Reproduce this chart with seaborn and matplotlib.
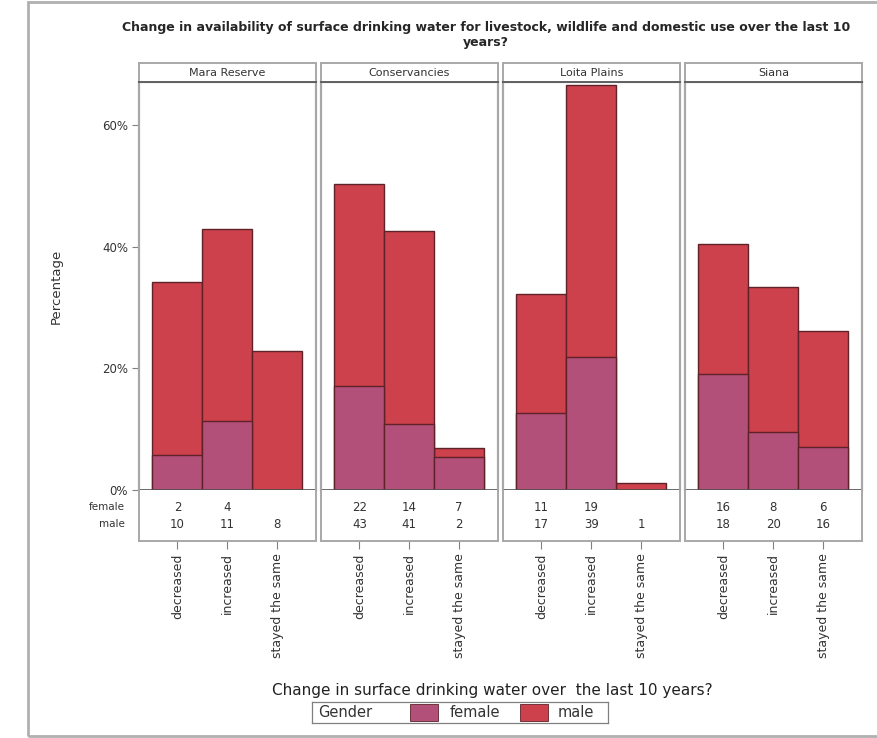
import numpy as np
import pandas as pd
import matplotlib
matplotlib.use("Agg")
import matplotlib.pyplot as plt
from matplotlib.patches import Rectangle
from matplotlib.ticker import PercentFormatter
import seaborn as sns

# datos (recuentos por zona, cambio y genero)
regions = ["Mara Reserve", "Conservancies", "Loita Plains", "Siana"]
changes = ["decreased", "increased", "stayed the same"]
female_counts = [[2, 4, 0], [22, 14, 7], [11, 19, 0], [16, 8, 6]]
male_counts = [[10, 11, 8], [43, 41, 2], [17, 39, 1], [18, 20, 16]]

title = ("Change in availability of surface drinking water for livestock, wildlife and domestic use over the last 10\n"
         "years?")
xlabel = "Change in surface drinking water over  the last 10 years?"

c_female = "#B3507A"
c_male = "#CC414B"
c_edge = "#5E2228"
c_frame = "#A8A8A8"
c_text = "#333333"

sns.set_style("white")
plt.rcParams["font.family"] = ["DejaVu Sans"]

W, H = 878, 738
fig = plt.figure(figsize=(W / 100, H / 100), dpi=100)


def box(x0, y0, x1, y1):
    # pixeles -> fraccion de figura
    return [x0 / W, 1 - y1 / H, (x1 - x0) / W, (y1 - y0) / H]


# marco exterior
fig.patches.append(Rectangle((28 / W, 2 / H), 1, 1 - 4 / H, transform=fig.transFigure,
                             fill=False, edgecolor="#B0B0B0", linewidth=2))

fig.text(486 / W, 1 - 35 / H, title, ha="center", va="center", fontsize=9,
         fontweight="bold", linespacing=1.2)

panels = [(139, 316), (321, 498), (503, 680), (685, 862)]
ymax = 67.1

for i, (x0, x1) in enumerate(panels):
    fem = np.array(female_counts[i])
    mal = np.array(male_counts[i])
    tot = (fem + mal).sum()
    df = pd.DataFrame({"change": changes,
                       "female": fem / tot * 100,
                       "total": (fem + mal) / tot * 100})

    ax = fig.add_axes(box(x0, 82, x1, 490))
    sns.barplot(data=df, x="change", y="total", order=changes, color=c_male, width=1,
                edgecolor=c_edge, linewidth=1.0, saturation=1, ax=ax)
    sns.barplot(data=df, x="change", y="female", order=changes, color=c_female, width=1,
                edgecolor=c_edge, linewidth=1.0, saturation=1, ax=ax)
    ax.set_xlim(-0.77, 2.78)
    ax.set_ylim(0, ymax)
    ax.set_xlabel("")
    ax.set_ylabel("")
    ax.set_xticks([])
    for s in ax.spines.values():
        s.set_color(c_frame)
        s.set_linewidth(1.6)
    ax.spines["bottom"].set_color("#505050")
    ax.spines["bottom"].set_linewidth(1.2)
    ax.set_yticks([0, 20, 40, 60])
    if i == 0:
        ax.yaxis.set_major_formatter(PercentFormatter(decimals=0))
        ax.tick_params(axis="y", left=True, length=5, width=0.8, color="#808080",
                       labelsize=8.5, labelcolor=c_text, pad=3)
        ax.set_ylabel("Percentage", fontsize=9.5, color=c_text)
        ax.yaxis.set_label_coords(-76 / 177, 0.5)
    else:
        ax.set_yticklabels([])
        ax.tick_params(axis="y", left=False)

    # cabecera del panel
    st = fig.add_axes(box(x0, 63, x1, 82))
    st.set_xticks([])
    st.set_yticks([])
    for s in st.spines.values():
        s.set_color(c_frame)
        s.set_linewidth(1.4)
    st.spines["bottom"].set_color("#606060")
    st.text(0.5, 0.5, regions[i], ha="center", va="center", fontsize=8, color=c_text,
            transform=st.transAxes)

    # tabla de recuentos
    tb = fig.add_axes(box(x0, 490, x1, 541))
    tb.set_xlim(ax.get_xlim())
    tb.set_ylim(0, 1)
    tb.set_yticks([])
    for s in tb.spines.values():
        s.set_color(c_frame)
        s.set_linewidth(1.4)
    tb.spines["top"].set_visible(False)
    for j in range(3):
        if fem[j] > 0:
            tb.text(j, 0.66, str(fem[j]), ha="center", va="center", fontsize=8.5, color=c_text)
        if mal[j] > 0:
            tb.text(j, 0.33, str(mal[j]), ha="center", va="center", fontsize=8.5, color=c_text)
    if i == 0:
        tb.text(-1.05, 0.66, "female", ha="right", va="center", fontsize=7.5, color=c_text)
        tb.text(-1.05, 0.33, "male", ha="right", va="center", fontsize=7.5, color=c_text)
    tb.set_xticks(range(3))
    tb.set_xticklabels(changes, rotation=90, fontsize=9, color=c_text)
    tb.tick_params(axis="x", bottom=True, length=6, width=0.8, color="#808080", pad=3)

fig.text(492 / W, 1 - 690 / H, xlabel, ha="center", va="center", fontsize=11, color="#222222")

# leyenda dibujada a mano (titulo en linea, como en el original)
lg = fig.add_axes(box(312, 702, 608, 723))
lg.set_xlim(312, 608)
lg.set_ylim(723, 702)
lg.set_xticks([])
lg.set_yticks([])
for s in lg.spines.values():
    s.set_color("#808080")
    s.set_linewidth(0.9)
lg.text(318, 712.5, "Gender", ha="left", va="center", fontsize=10.5, color=c_text)
lg.add_patch(Rectangle((410, 704), 28, 17, facecolor=c_female, edgecolor=c_edge, linewidth=0.6))
lg.text(450, 712.5, "female", ha="left", va="center", fontsize=10.5, color=c_text)
lg.add_patch(Rectangle((520, 704), 28, 17, facecolor=c_male, edgecolor=c_edge, linewidth=0.6))
lg.text(558, 712.5, "male", ha="left", va="center", fontsize=10.5, color=c_text)

fig.savefig("out.png", dpi=100)
